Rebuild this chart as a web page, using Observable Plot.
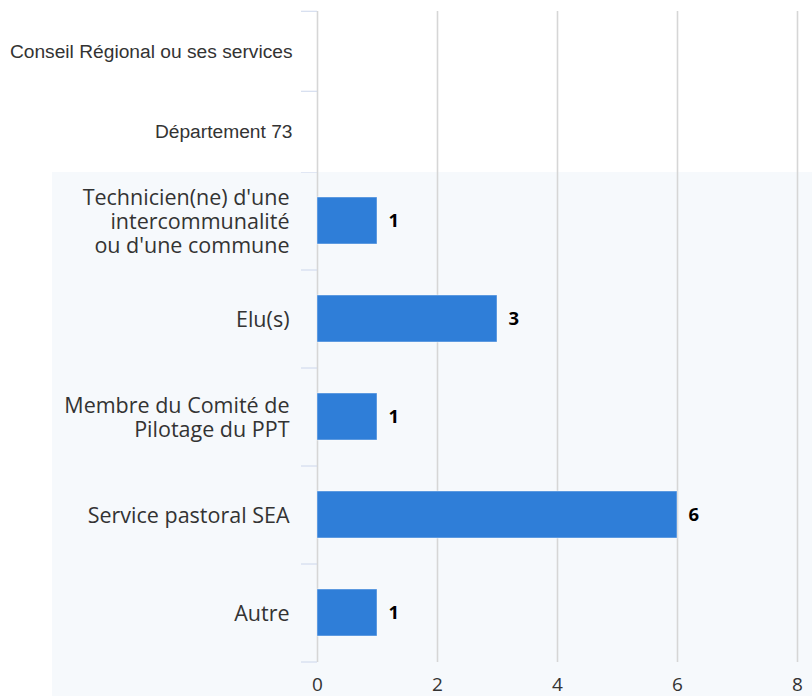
<!DOCTYPE html>
<html>
<head>
<meta charset="utf-8">
<script src="https://cdn.jsdelivr.net/npm/d3@7"></script>
<script src="https://cdn.jsdelivr.net/npm/@observablehq/plot@0.6"></script>
<style>
  html, body { margin: 0; padding: 0; background: #ffffff; }
  #chart { position: relative; width: 812px; height: 696px; overflow: hidden; }
  #chart svg { display: block; }
  #bottom { margin-left: 52px; width: 760px; background: #f6f9fc; }
</style>
</head>
<body>
<div id="chart">
  <div id="top"></div>
  <div id="bottom"></div>
</div>
<script>
// ---- data ----
const categories = [
  "Conseil Régional ou ses services",
  "Département 73",
  "Technicien(ne) d'une\nintercommunalité\nou d'une commune",
  "Elu(s)",
  "Membre du Comité de\nPilotage du PPT",
  "Service pastoral SEA",
  "Autre"
];
const values = [0, 0, 1, 3, 1, 6, 1];
const xTicks = [0, 2, 4, 6, 8];
const xDomain = [0, 8];

const data = categories.map((c, i) => ({category: c, value: values[i]}));
const topCats = categories.slice(0, 2);
const bottomCats = categories.slice(2);
const topData = data.filter(d => topCats.includes(d.category));
const bottomData = data.filter(d => bottomCats.includes(d.category));

const barColor = "#2f7ed8";
const gridColor = "#d6d6d6";
const tickColor = "#ccd6eb";

// ---- top panel (two empty categories) ----
const topH = 172, topMT = 11;
const topStep = (topH - topMT) / topCats.length;
const arial = "'Liberation Sans', Arial, sans-serif";
const topPlot = Plot.plot({
  width: 812, height: topH,
  marginLeft: 317, marginRight: 15, marginTop: topMT, marginBottom: 0,
  style: {background: "white", fontFamily: arial, fontSize: "19px", color: "#333"},
  x: {domain: xDomain, axis: null},
  y: {domain: topCats, paddingInner: 0.52, paddingOuter: 0.26, label: null},
  marks: [
    Plot.gridX(xTicks, {stroke: gridColor, strokeOpacity: 1, strokeWidth: 1.6}),
    Plot.axisY({tickSize: 0, tickPadding: 25, fontSize: 19.2, fill: "#333", fontFamily: arial, label: null}),
    Plot.axisY({text: null, tickSize: 16, stroke: tickColor, strokeOpacity: 1, dy: -topStep / 2, label: null}),
    Plot.barX(topData, {x: "value", y: "category", fill: barColor, stroke: barColor, strokeOpacity: 0.35, strokeWidth: 1})
  ]
});
document.getElementById("top").append(topPlot);

// ---- bottom panel ----
const botH = 524, botMB = 34;
const botStep = (botH - botMB) / bottomCats.length;
const font = "'Open Sans', sans-serif";
const bottomPlot = Plot.plot({
  width: 760, height: botH,
  marginLeft: 265, marginRight: 15, marginTop: 0, marginBottom: botMB,
  style: {background: "transparent", fontFamily: font, fontSize: "21px", color: "#333"},
  x: {domain: xDomain, label: null},
  y: {domain: bottomCats, paddingInner: 0.52, paddingOuter: 0.26, label: null},
  marks: [
    Plot.gridX(xTicks, {stroke: gridColor, strokeOpacity: 1, strokeWidth: 1.6}),
    Plot.axisX({ticks: xTicks, tickSize: 0, tickPadding: 15, fontSize: 19, fill: "#333", fontFamily: font, label: null}),
    Plot.axisY({tickSize: 0, tickPadding: 28, fontSize: 21.5, lineHeight: 1.12, fill: "#333", fontFamily: font, label: null}),
    Plot.axisY({text: null, tickSize: 16, stroke: tickColor, strokeOpacity: 1, dy: -botStep / 2, label: null}),
    Plot.axisY([bottomCats[bottomCats.length - 1]], {text: null, tickSize: 16, stroke: tickColor, strokeOpacity: 1, dy: botStep / 2, label: null}),
    Plot.barX(bottomData, {x: "value", y: "category", fill: barColor, stroke: "#ffffff", strokeOpacity: 0.45, strokeWidth: 1}),
    Plot.text(bottomData.filter(d => d.value > 0), {
      x: "value", y: "category", text: d => String(d.value),
      textAnchor: "start", dx: 11, fontWeight: "bold", fontSize: 18.5, fill: "#000", fontFamily: font
    })
  ]
});
document.getElementById("bottom").append(bottomPlot);
</script>
</body>
</html>
